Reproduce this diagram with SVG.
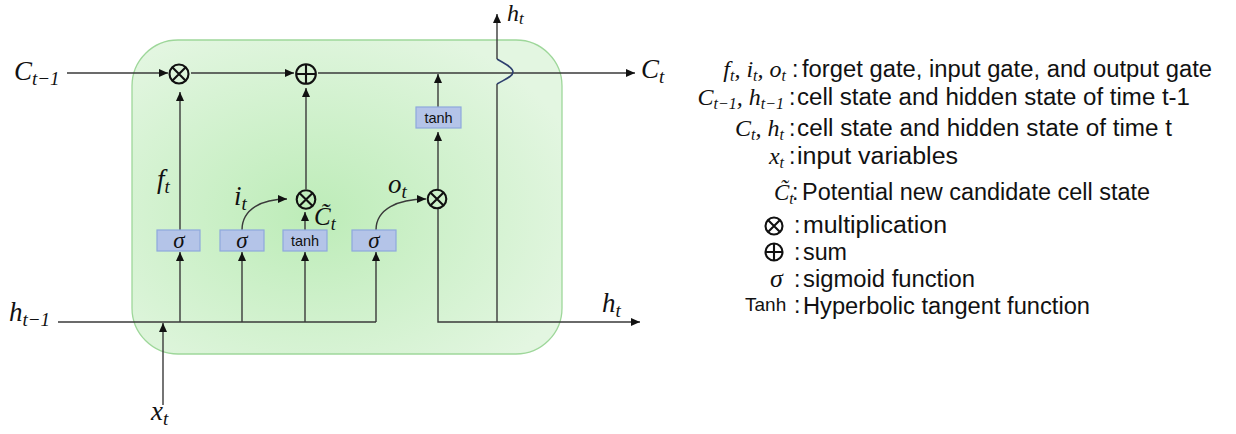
<svg xmlns="http://www.w3.org/2000/svg" width="1236" height="434" viewBox="0 0 1236 434">
<style>
.ln{fill:none;stroke:#3a3a3a;stroke-width:1.4}
.arr{marker-end:url(#ah)}
.box{fill:#b4c4e8;stroke:#8ea8dc;stroke-width:1.2}
.op{fill:none;stroke:#111;stroke-width:2.1}
.m{font-family:"Liberation Serif","DejaVu Serif",serif;font-style:italic;fill:#111}
.s{font-family:"Liberation Sans",Arial,sans-serif;fill:#111}
.lg{font-family:"Liberation Sans",Arial,sans-serif;font-size:23px;fill:#111}
</style>
<defs>
<marker id="ah" markerUnits="userSpaceOnUse" markerWidth="9" markerHeight="8" refX="9" refY="4" orient="auto">
<path d="M0,0 L9,4 L0,8 z" fill="#111"/>
</marker>
<radialGradient id="gg" cx="0.42" cy="0.56" r="0.65">
<stop offset="0" stop-color="#bdecb8"/>
<stop offset="1" stop-color="#e3f6e1"/>
</radialGradient>
</defs>

<g id="cell">
<rect x="132" y="40" width="430" height="314" rx="46" ry="46" fill="url(#gg)" stroke="#9ed79a" stroke-width="1.3"/>
</g>

<g id="connectors">
<path class="ln arr" d="M67,73 H168"/>
<path class="ln arr" d="M191,73 H294"/>
<path class="ln arr" d="M318,73 H635"/>
<path class="ln arr" d="M180,230 V92"/>
<path class="ln arr" d="M306,189 V88"/>
<path class="ln arr" d="M305,230 V212"/>
<path class="ln arr" d="M242,230 C242,209 262,199 287,199"/>
<path class="ln arr" d="M376,230 C376,209 398,199 426,199"/>
<path class="ln" d="M58,322 H376"/>
<path class="ln arr" d="M180,322 V252"/>
<path class="ln arr" d="M242,322 V252"/>
<path class="ln arr" d="M305,322 V252"/>
<path class="ln arr" d="M376,322 V252"/>
<path class="ln arr" d="M163,405 V323"/>
<path class="ln arr" d="M438,209 V322 H640"/>
<path class="ln arr" d="M438,189 V132"/>
<path class="ln arr" d="M438,107 V74"/>
<path class="ln" d="M497,322 V84"/>
<path fill="none" stroke="#2d3f6e" stroke-width="1.6" d="M497,84 C503,80 513,77 513,72 C513,67 503,63 497,59"/>
<path class="ln arr" d="M497,59 V14"/>
</g>

<g id="mult_f">
<circle class="op" cx="179" cy="74" r="9.5"/>
<path class="op" d="M172.3,67.3 L185.7,80.7 M185.7,67.3 L172.3,80.7"/>
</g>
<g id="add_c">
<circle class="op" cx="306" cy="74" r="9.8"/>
<path class="op" d="M296.2,74 H315.8 M306,64.2 V83.8"/>
</g>
<g id="mult_i">
<circle class="op" cx="306" cy="199.5" r="9.3"/>
<path class="op" d="M299.4,192.9 L312.6,206.1 M312.6,192.9 L299.4,206.1"/>
</g>
<g id="mult_o">
<circle class="op" cx="437" cy="199" r="9.3"/>
<path class="op" d="M430.4,192.4 L443.6,205.6 M443.6,192.4 L430.4,205.6"/>
</g>

<g id="sig_f">
<rect class="box" x="157" y="230" width="43" height="21"/>
<text class="m" x="179" y="248" font-size="23" text-anchor="middle">σ</text>
</g>
<g id="sig_i">
<rect class="box" x="220" y="230" width="44" height="21"/>
<text class="m" x="242" y="248" font-size="23" text-anchor="middle">σ</text>
</g>
<g id="tanh_c">
<rect class="box" x="283" y="230" width="44" height="21"/>
<text class="s" x="305" y="246" font-size="14.5" text-anchor="middle">tanh</text>
</g>
<g id="sig_o">
<rect class="box" x="352" y="230" width="44" height="21"/>
<text class="m" x="374" y="248" font-size="23" text-anchor="middle">σ</text>
</g>
<g id="tanh_h">
<rect class="box" x="416" y="107" width="45" height="21"/>
<text class="s" x="438.5" y="123" font-size="14.5" text-anchor="middle">tanh</text>
</g>

<g id="labels">
<text class="m" x="14" y="80" font-size="27">C<tspan font-size="19" dy="5">t−1</tspan></text>
<text class="m" x="641" y="78" font-size="27">C<tspan font-size="19" dy="5">t</tspan></text>
<text class="m" x="507" y="21" font-size="24">h<tspan font-size="17" dy="3">t</tspan></text>
<text class="m" x="9" y="321" font-size="27">h<tspan font-size="19" dy="5">t−1</tspan></text>
<text class="m" x="151" y="420" font-size="27">x<tspan font-size="19" dy="5">t</tspan></text>
<text class="m" x="602" y="312" font-size="27">h<tspan font-size="19" dy="5">t</tspan></text>
<text class="m" x="157" y="188" font-size="27">f<tspan font-size="19" dy="5">t</tspan></text>
<text class="m" x="234" y="205" font-size="27">i<tspan font-size="19" dy="5">t</tspan></text>
<text class="m" x="314" y="225" font-size="25">C̃<tspan font-size="18" dy="5">t</tspan></text>
<text class="m" x="388" y="193" font-size="27">o<tspan font-size="19" dy="5">t</tspan></text>
</g>

<g id="legend">
<text class="m" x="786" y="77" font-size="24" text-anchor="end">f<tspan font-size="16" dy="4">t</tspan><tspan dy="-4">, i</tspan><tspan font-size="16" dy="4">t</tspan><tspan dy="-4">, o</tspan><tspan font-size="16" dy="4">t</tspan></text>
<text class="lg" x="792" y="77">:</text>
<text class="lg" x="802" y="77" textLength="410" lengthAdjust="spacingAndGlyphs">forget gate, input gate, and output gate</text>

<text class="m" x="784" y="105" font-size="24" text-anchor="end">C<tspan font-size="16" dy="4">t−1</tspan><tspan dy="-4">, h</tspan><tspan font-size="16" dy="4">t−1</tspan></text>
<text class="lg" x="789" y="105">:</text>
<text class="lg" x="797" y="105" textLength="393" lengthAdjust="spacingAndGlyphs">cell state and hidden state of time t-1</text>

<text class="m" x="784" y="136" font-size="24" text-anchor="end">C<tspan font-size="16" dy="4">t</tspan><tspan dy="-4">, h</tspan><tspan font-size="16" dy="4">t</tspan></text>
<text class="lg" x="789" y="136">:</text>
<text class="lg" x="797" y="136" textLength="375" lengthAdjust="spacingAndGlyphs">cell state and hidden state of time t</text>

<text class="m" x="784" y="164" font-size="24" text-anchor="end">x<tspan font-size="16" dy="4">t</tspan></text>
<text class="lg" x="789" y="164">:</text>
<text class="lg" x="797" y="164" textLength="161" lengthAdjust="spacingAndGlyphs">input variables</text>

<text class="m" x="774" y="200" font-size="23">C̃<tspan font-size="16" dy="4">t</tspan></text>
<text class="lg" x="792" y="200">:</text>
<text class="lg" x="802" y="200" textLength="348" lengthAdjust="spacingAndGlyphs">Potential new candidate cell state</text>

<circle class="op" cx="774" cy="226" r="8.5"/>
<path class="op" d="M768,220 L780,232 M780,220 L768,232"/>
<text class="lg" x="794" y="233">:</text>
<text class="lg" x="803" y="233" textLength="144" lengthAdjust="spacingAndGlyphs">multiplication</text>

<circle class="op" cx="774" cy="252" r="8.5"/>
<path class="op" d="M765.5,252 H782.5 M774,243.5 V260.5"/>
<text class="lg" x="794" y="260">:</text>
<text class="lg" x="803" y="260" textLength="44" lengthAdjust="spacingAndGlyphs">sum</text>

<text class="m" x="770" y="287" font-size="26">σ</text>
<text class="lg" x="794" y="287">:</text>
<text class="lg" x="803" y="287" textLength="172" lengthAdjust="spacingAndGlyphs">sigmoid function</text>

<text x="745" y="311" font-family="Liberation Sans,Arial,sans-serif" font-size="19" fill="#111">Tanh</text>
<text class="lg" x="794" y="313">:</text>
<text class="lg" x="803" y="314" textLength="287" lengthAdjust="spacingAndGlyphs">Hyperbolic tangent function</text>
</g>
</svg>
